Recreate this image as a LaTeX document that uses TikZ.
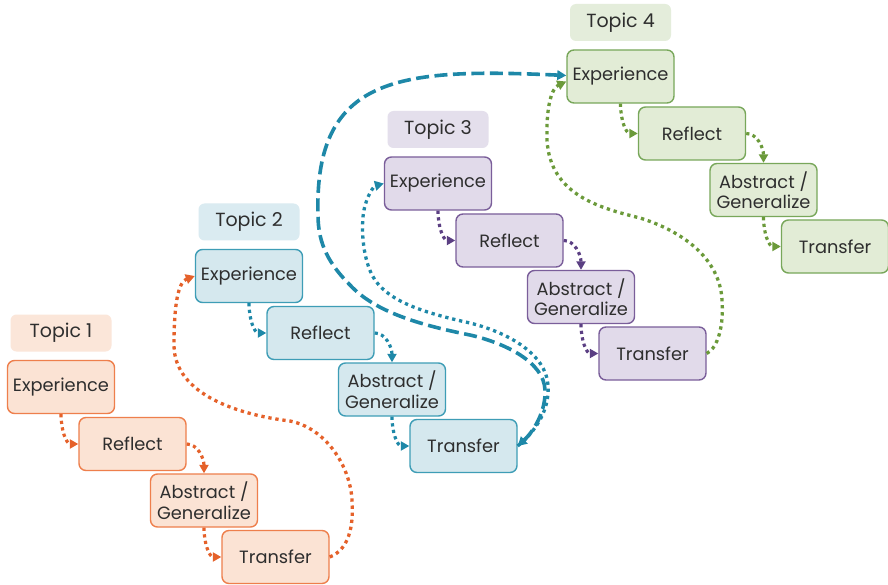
\documentclass[tikz,border=0pt]{standalone}
\usepackage{fontspec}
\setmainfont{Poppins}
\usetikzlibrary{arrows.meta}

% per-topic palette: box fill, box outline, label fill, arrow colour
\definecolor{t1fill}{HTML}{FBE3D4}\definecolor{t1line}{HTML}{EE7F4C}
\definecolor{t1label}{HTML}{FBE6D9}\definecolor{t1arrow}{HTML}{E5612A}
\definecolor{t2fill}{HTML}{D5E8EE}\definecolor{t2line}{HTML}{3E9DB6}
\definecolor{t2label}{HTML}{DAEBF1}\definecolor{t2arrow}{HTML}{1E88A8}
\definecolor{t3fill}{HTML}{E1DAEA}\definecolor{t3line}{HTML}{7A5E9A}
\definecolor{t3label}{HTML}{E4DFEC}\definecolor{t3arrow}{HTML}{5B3F83}
\definecolor{t4fill}{HTML}{E2ECD6}\definecolor{t4line}{HTML}{78A75A}
\definecolor{t4label}{HTML}{E4EDDB}\definecolor{t4arrow}{HTML}{6B9A3A}
\definecolor{textgray}{HTML}{2E2E2E}

\begin{document}
\begin{tikzpicture}[x=1pt,y=-1pt,
  stepbox/.style={draw=t#1line, fill=t#1fill, line width=1.4pt,
    rounded corners=7pt, minimum width=107pt, minimum height=53pt,
    align=center, text=textgray, inner sep=1pt,
    font=\fontsize{17.8}{20.5}\selectfont},
  labelbox/.style={fill=t#1label, rounded corners=6pt,
    minimum width=101pt, minimum height=37pt, text=textgray,
    font=\fontsize{19}{20}\selectfont},
  flow/.style={draw=t#1arrow, line width=3.2pt,
    dash pattern=on 3.2pt off 3.4pt, -{Triangle[length=8.5pt,width=9pt]}},
  link/.style={draw=#1, line width=3.3pt,
    dash pattern=on 3.3pt off 3.8pt, -{Triangle[length=9pt,width=9.5pt]}},
  longlink/.style={draw=#1, line width=3.6pt,
    dash pattern=on 13pt off 5.5pt,
    {Triangle[length=9pt,width=9.5pt]}-{Triangle[length=9pt,width=9.5pt]}}]

\fill[white] (0,0) rectangle (888,585);
\useasboundingbox (0,0) rectangle (888,585);

% four topics, each a staircase of four steps
\foreach \i/\cx/\cy in {1/61/387,2/249/276,3/438/183.5,4/620.5/76.5}{
  \node[labelbox=\i] (t\i L) at (\cx,\cy-54) {Topic \i};
  \node[stepbox=\i] (t\i E) at (\cx,\cy) {Experience};
  \node[stepbox=\i] (t\i R) at (\cx+71.5,\cy+57) {Reflect};
  \node[stepbox=\i] (t\i A) at (\cx+143,\cy+113.5) {Abstract /\\Generalize};
  \node[stepbox=\i] (t\i T) at (\cx+214.5,\cy+170) {Transfer};
  \draw[flow=\i] (t\i E.south) .. controls +(0,16) and +(-12,0) .. (t\i R.west);
  \draw[flow=\i] (t\i R.east) .. controls +(11,0) and +(0,-15) .. (t\i A.north);
  \draw[flow=\i] (t\i A.south) .. controls +(0,16) and +(-12,0) .. (t\i T.west);
}

% topic 1 -> topic 2
\draw[link=t1arrow] (t1T.east)
  .. controls (348,550) and (354,528) .. (352,500)
  .. controls (350,465) and (325,428) .. (290,421)
  .. controls (240,415) and (174,395) .. (174,345)
  .. controls (174,305) and (178,282) .. (t2E.west);

% topic 2 -> topic 3
\draw[link=t2arrow] (t2T.east)
  .. controls (535,432) and (550,410) .. (548,385)
  .. controls (546,355) and (510,333) .. (470,323)
  .. controls (420,312) and (385,300) .. (372,275)
  .. controls (362,255) and (361,225) .. (364,210)
  .. controls (367,195) and (374,186) .. (t3E.west);

% topic 2 -> topic 4
\draw[longlink=t2arrow] (t2T.east)
  .. controls (533,432) and (546,412) .. (545,390)
  .. controls (544,362) and (505,343) .. (470,335)
  .. controls (420,325) and (375,312) .. (350,285)
  .. controls (330,265) and (318,245) .. (318,215)
  .. controls (314,75) and (400,68) .. ([yshift=1pt]t4E.west);

% topic 3 -> topic 4
\draw[link=t4arrow] (t3T.east)
  .. controls (718,348) and (724,325) .. (722,300)
  .. controls (720,260) and (685,232) .. (640,218)
  .. controls (600,208) and (550,195) .. (547,140)
  .. controls (546,105) and (552,88) .. ([yshift=-5pt]t4E.west);
\end{tikzpicture}
\end{document}
